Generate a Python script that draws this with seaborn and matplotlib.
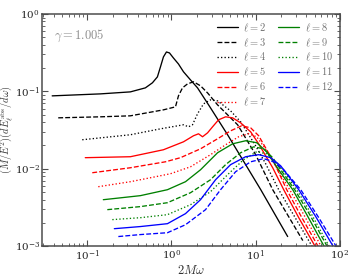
import numpy as np
import pandas as pd
import seaborn as sns
from matplotlib import pyplot as plt

# values (x = 2M omega, y = (M/E^2) dE/domega)
l2_x = [0.0383, 0.143, 0.325, 0.490, 0.594, 0.681, 0.740, 0.803, 0.872, 0.947, 1.056, 1.211, 1.39, 1.68, 2.04, 2.91, 4.64, 11.5, 24.0]
l2_y = [0.0875, 0.0928, 0.0985, 0.111, 0.129, 0.154, 0.207, 0.279, 0.323, 0.314, 0.270, 0.226, 0.179, 0.141, 0.111, 0.0612, 0.0275, 0.00536, 0.00133]

l3_x = [0.0452, 0.143, 0.325, 0.803, 1.116, 1.211, 1.352, 1.551, 1.828, 2.214, 2.683, 3.529, 6.105, 10.0, 15.94, 36.3]
l3_y = [0.0455, 0.0469, 0.0483, 0.0577, 0.0631, 0.0875, 0.111, 0.125, 0.133, 0.118, 0.0956, 0.0669, 0.0370, 0.0152, 0.00536, 0.00118]

l4_x = [0.0872, 0.325, 0.740, 1.39, 1.594, 1.778, 2.04, 2.404, 2.91, 3.529, 5.04, 6.63, 10.0, 13.15, 18.78, 46.4, 51.8]
l4_y = [0.0237, 0.0275, 0.0328, 0.0370, 0.0348, 0.0370, 0.0513, 0.0690, 0.0777, 0.0754, 0.0560, 0.0404, 0.0198, 0.0116, 0.00536, 0.00101, 0.000824]

l5_x = [0.0947, 0.325, 0.803, 1.39, 1.828, 2.096, 2.339, 2.683, 3.076, 3.627, 4.394, 5.324, 6.63, 8.72, 10.86, 13.15, 15.94, 21.54, 32.5, 50.4, 56.2]
l5_y = [0.0139, 0.0143, 0.0176, 0.0223, 0.0267, 0.0283, 0.0259, 0.0291, 0.0348, 0.0429, 0.0469, 0.0455, 0.0392, 0.0300, 0.0210, 0.0147, 0.0103, 0.00536, 0.00233, 0.00101, 0.000824]

l6_x = [0.1147, 0.325, 0.849, 1.28, 2.214, 3.529, 5.04, 6.813, 8.72, 10.86, 13.52, 16.83, 23.39, 34.3, 54.7, 61.1]
l6_y = [0.00888, 0.0103, 0.0123, 0.0139, 0.0181, 0.0244, 0.0309, 0.0359, 0.0338, 0.0267, 0.0176, 0.0116, 0.00536, 0.00248, 0.00101, 0.000824]

l7_x = [0.1352, 0.325, 0.563, 0.973, 1.684, 2.91, 4.394, 6.277, 8.254, 10.28, 12.8, 16.83, 25.4, 37.3, 59.4, 66.3]
l7_y = [0.00586, 0.0068, 0.00765, 0.00862, 0.0106, 0.0152, 0.0204, 0.0259, 0.0283, 0.0259, 0.0187, 0.0113, 0.00536, 0.00255, 0.00101, 0.000824]

l8_x = [0.1551, 0.4275, 0.896, 1.468, 2.214, 3.529, 5.324, 7.60, 10.28, 13.52, 18.78, 27.57, 40.5, 64.5, 72.0]
l8_y = [0.00398, 0.00449, 0.00536, 0.0068, 0.0097, 0.0161, 0.0210, 0.0230, 0.0217, 0.0166, 0.0097, 0.00536, 0.00255, 0.00101, 0.000824]

l9_x = [0.173, 0.4275, 0.896, 1.684, 2.91, 4.394, 6.63, 9.47, 12.45, 15.94, 19.85, 29.1, 43.9, 70.0, 78.1]
l9_y = [0.00296, 0.00324, 0.00364, 0.0049, 0.00721, 0.0113, 0.0161, 0.0192, 0.0181, 0.0139, 0.0097, 0.00536, 0.00255, 0.00101, 0.000824]

l10_x = [0.1985, 0.4275, 0.896, 1.684, 2.91, 4.77, 7.197, 10.28, 13.52, 17.3, 21.54, 30.8, 46.4, 74.0, 82.5]
l10_y = [0.0022, 0.00233, 0.00255, 0.00343, 0.00505, 0.00862, 0.0131, 0.0166, 0.0156, 0.0123, 0.00915, 0.00536, 0.00255, 0.00101, 0.000824]

l11_x = [0.2096, 0.4275, 0.896, 1.468, 2.214, 3.341, 5.04, 7.60, 10.86, 15.09, 19.85, 32.5, 51.8, 82.5, 92.1]
l11_y = [0.00168, 0.00179, 0.00195, 0.00263, 0.00398, 0.00721, 0.0113, 0.0143, 0.0152, 0.0139, 0.0109, 0.00536, 0.0024, 0.00101, 0.000824]

l12_x = [0.234, 0.4275, 0.896, 1.468, 2.54, 3.831, 5.78, 8.72, 12.45, 16.38, 21.54, 34.3, 56.2, 89.6, 97.3]
l12_y = [0.00133, 0.00141, 0.00149, 0.00189, 0.00296, 0.00536, 0.00915, 0.0123, 0.0135, 0.0123, 0.0097, 0.00536, 0.00233, 0.00101, 0.00085]

ells = [2, 3, 4, 5, 6, 7, 8, 9, 10, 11, 12]
xs = [l2_x, l3_x, l4_x, l5_x, l6_x, l7_x, l8_x, l9_x, l10_x, l11_x, l12_x]
ys = [l2_y, l3_y, l4_y, l5_y, l6_y, l7_y, l8_y, l9_y, l10_y, l11_y, l12_y]
colors = ['black'] * 3 + ['red'] * 3 + ['green'] * 3 + ['blue'] * 2
styles = ['-', '--', ':'] * 4

sns.set_theme(style='ticks')
plt.rcParams['font.family'] = ['DejaVu Serif']
plt.rcParams['mathtext.fontset'] = 'cm'
plt.rcParams['axes.edgecolor'] = '0.3'
plt.rcParams['xtick.color'] = '0.3'
plt.rcParams['ytick.color'] = '0.3'
plt.rcParams['xtick.labelcolor'] = '0.15'
plt.rcParams['ytick.labelcolor'] = '0.15'

fig = plt.figure(figsize=(3.5, 2.8), dpi=100)
ax = fig.add_axes([0.12, 0.121, 0.851, 0.829])

for ell, x, y, c, ls in zip(ells, xs, ys, colors, styles):
    df = pd.DataFrame({'x': x, 'y': y})
    sns.lineplot(data=df, x='x', y='y', color=c, linestyle=ls, lw=0.95,
                 estimator=None, sort=False, label=r'$\ell = %d$' % ell, ax=ax)

ax.set_xscale('log')
ax.set_yscale('log')
ax.set_xlim(0.029, 100)
ax.set_ylim(1e-3, 1)
ax.tick_params(which='both', direction='in', top=True, right=True, labelsize=7.5, pad=1.5)
ax.tick_params(which='major', length=4, width=0.8)
ax.tick_params(which='minor', length=2, width=0.6)
for s in ax.spines.values():
    s.set_linewidth(1.1)

ax.set_xlabel(r'$2M\omega$', fontsize=9, color='0.2', labelpad=1)
ax.set_ylabel(r'$(M/E^2)(dE_\ell^{\rm abs}/d\omega)$', fontsize=7.5, color='0.2')
ax.yaxis.set_label_coords(-0.09, 0.5)
ax.text(0.04, 0.94, r'$\gamma = 1.005$', transform=ax.transAxes, fontsize=9,
        color='0.55', va='top', ha='left')

ax.legend(ncol=2, frameon=False, loc='upper right', fontsize=7.5, labelcolor='0.45',
          handlelength=2.0, handletextpad=0.5, columnspacing=1.2, labelspacing=0.25,
          borderaxespad=0.3)

fig.savefig('out.png', dpi=100)
